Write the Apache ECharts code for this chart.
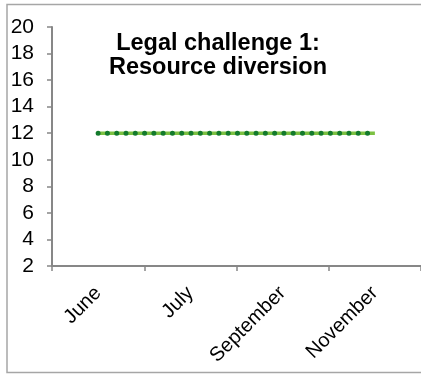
<!DOCTYPE html>
<html>
<head>
<meta charset="utf-8">
<script src="https://cdn.jsdelivr.net/npm/echarts@6/dist/echarts.min.js"></script>
<style>
html,body{margin:0;padding:0;background:#fff;}
#chart{width:421px;height:374px;}
</style>
</head>
<body>
<div id="chart"></div>
<script>
const categories = ['June', 'July', 'September', 'November'];
const values = [12, 12, 12, 12];
const yTicks = { min: 2, max: 20, interval: 2 };
const titleLines = ['Legal challenge 1:', 'Resource diversion'];

const chart = echarts.init(document.getElementById('chart'), null, { renderer: 'canvas' });
const axisColor = '#878787';
const option = {
  animation: false,
  backgroundColor: '#fff',
  grid: { left: 52, top: 27, width: 372, height: 239, containLabel: false },
  graphic: [
    {
      type: 'rect', silent: true, z: 0,
      shape: { x: 7, y: 4.5, width: 440, height: 368 },
      style: { fill: 'none', stroke: '#a6a6a6', lineWidth: 1.5 }
    },
    {
      type: 'text', silent: true, z: 10,
      style: {
        x: 218, y: 32,
        text: titleLines.join('\n'),
        font: 'bold 23.5px "Liberation Sans", Arial, sans-serif',
        fill: '#000',
        textAlign: 'center',
        textVerticalAlign: 'top',
        lineHeight: 23.5
      }
    }
  ],
  xAxis: {
    type: 'category',
    data: categories,
    boundaryGap: true,
    axisLine: { lineStyle: { color: axisColor, width: 2 } },
    axisTick: { show: true, length: 5, alignWithLabel: false, lineStyle: { color: axisColor, width: 1.5 } },
    axisLabel: {
      rotate: 45, margin: 24, fontSize: 20, color: '#000',
      fontFamily: '"Liberation Sans", Arial, sans-serif', interval: 0
    },
    splitLine: { show: false }
  },
  yAxis: {
    type: 'value',
    min: yTicks.min, max: yTicks.max, interval: yTicks.interval,
    axisLine: { show: true, lineStyle: { color: axisColor, width: 2 } },
    axisTick: { show: true, length: 5, lineStyle: { color: axisColor, width: 1.5 } },
    axisLabel: { margin: 18, fontSize: 21, color: '#000', fontFamily: '"Liberation Sans", Arial, sans-serif' },
    splitLine: { show: false }
  },
  series: [
    {
      type: 'line', data: values, symbol: 'none', silent: true,
      lineStyle: { color: '#7cc142', width: 3.5 },
      emphasis: { disabled: true }
    },
    {
      type: 'line', data: values, symbol: 'none', silent: true,
      lineStyle: { color: '#137a2c', width: 5, type: [0, 9.29], cap: 'round' },
      emphasis: { disabled: true }
    }
  ]
};
chart.setOption(option);
</script>
</body>
</html>
